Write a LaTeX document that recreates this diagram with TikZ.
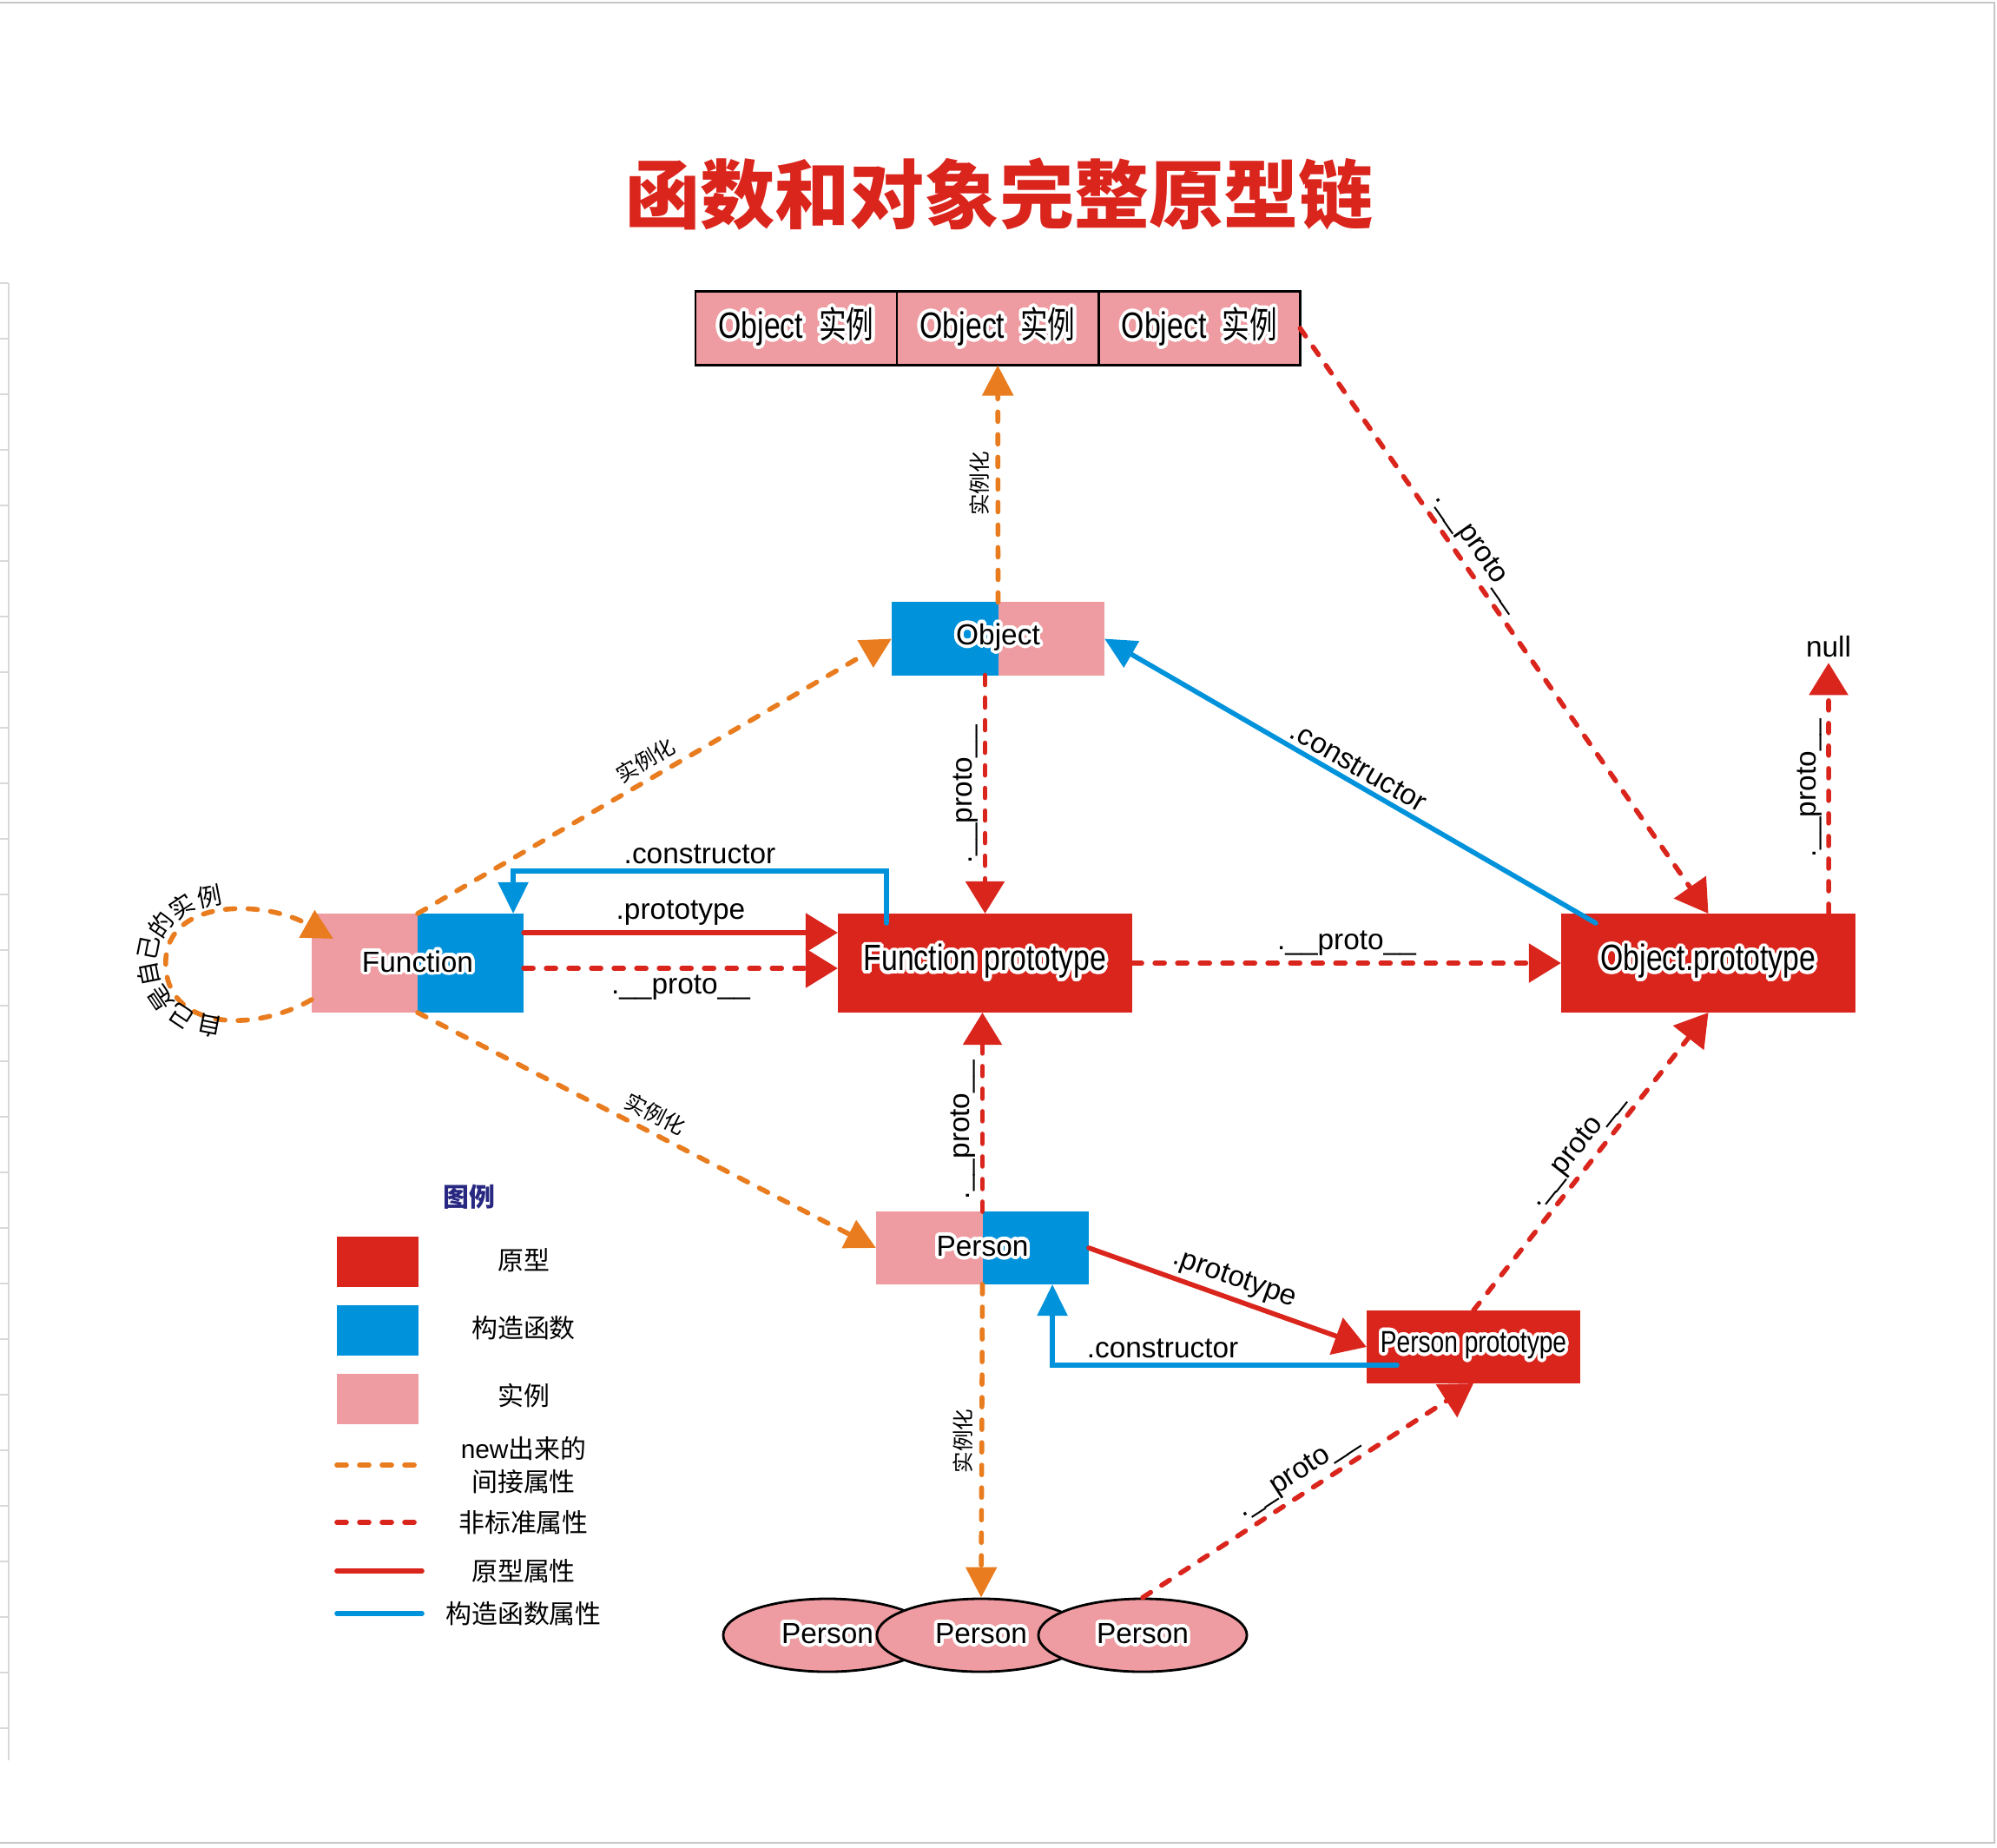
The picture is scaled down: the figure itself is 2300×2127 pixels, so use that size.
\documentclass[tikz,border=0pt]{standalone}
\usepackage{fontspec}
\setmainfont{Liberation Sans}
\newfontfamily\narrowfont{Liberation Sans}[FakeStretch=0.8]
\newfontfamily\cjk{Noto Sans CJK SC}
\newfontfamily\cjknarrow{Noto Sans CJK SC}[FakeStretch=0.75]
\usepackage{contour}
\contourlength{1.1pt}
\contournumber{24}
\usetikzlibrary{positioning,arrows.meta,shapes.geometric}

\definecolor{protored}{RGB}{218,37,29}
\definecolor{ctorblue}{RGB}{0,146,219}
\definecolor{instpink}{RGB}{238,156,161}
\definecolor{neworange}{RGB}{232,124,30}
\definecolor{legendnavy}{RGB}{40,40,130}

\newcommand{\halo}[1]{\contour{white}{#1}}
\newcommand{\protolbl}{.\_\_proto\_\_}

\begin{document}
\begin{tikzpicture}[x=0.01cm,y=-0.01cm,>={Triangle[length=3.7mm,width=4.4mm]},
  inst/.style={draw=black,line width=0.8pt,fill=instpink,minimum width=2.32cm,minimum height=0.85cm,inner sep=0pt,outer sep=0pt,font=\narrowfont\fontsize{12}{13}\selectfont},
  ctor/.style={minimum width=2.45cm,minimum height=0.84cm,inner sep=0pt,outer sep=0pt,font=\fontsize{9.5}{10}\selectfont},
  halves/.style 2 args={path picture={
    \fill[#1] (path picture bounding box.south west) rectangle (path picture bounding box.north);
    \fill[#2] (path picture bounding box.south) rectangle (path picture bounding box.north east);}},
  protobox/.style={fill=protored,minimum width=3.39cm,minimum height=1.14cm,inner sep=0pt,outer sep=0pt,font=\narrowfont\fontsize{12}{13}\selectfont},
  pers/.style={ellipse,draw=black,line width=0.8pt,fill=instpink,minimum width=2.4cm,minimum height=0.84cm,inner sep=0pt,font=\fontsize{9.5}{10}\selectfont},
  lbl/.style={text=black,font=\fontsize{9.5}{10}\selectfont,inner sep=1.5pt},
  cjklbl/.style={text=black,font=\cjk\fontsize{7}{8}\selectfont,inner sep=2pt},
  legtxt/.style={font=\cjk\fontsize{8.5}{11}\selectfont,align=center},
  legbox/.style={minimum width=0.94cm,minimum height=0.58cm,inner sep=0pt},
  newedge/.style={neworange,line width=1.6pt,line cap=round,dash pattern=on 1.1mm off 1.5mm,>={Triangle[length=3.5mm,width=3.5mm]}},
  nsedge/.style={protored,line width=1.6pt,line cap=round,dash pattern=on 1.1mm off 1.5mm},
  protoedge/.style={protored,line width=1.6pt,line cap=round},
  ctoredge/.style={ctorblue,line width=1.6pt,line cap=round,>={Triangle[length=3.6mm,width=3.4mm]}}]
\useasboundingbox (0,0) rectangle (2300,2127);
% page edges
\draw[gray!45,line width=0.6pt] (0,3) -- (2297,3) -- (2297,2122) -- (0,2122);
\draw[gray!30] (10,326) -- (10,2027);
\foreach \t in {326,390,...,2027} \draw[gray!30] (0,\t) -- (10,\t);

\node[font=\cjk\bfseries\fontsize{24.5}{28}\selectfont,text=protored] (title) at (1151,223) {函数和对象完整原型链};

% instances of Object
\node[inst] (inst1) at (917,378) {\halo{Object\hspace{0.18cm}{\cjknarrow 实例}}};
\node[inst,right=0pt of inst1] (inst2) {\halo{Object\hspace{0.18cm}{\cjknarrow 实例}}};
\node[inst,right=0pt of inst2] (inst3) {\halo{Object\hspace{0.18cm}{\cjknarrow 实例}}};

% constructors and prototypes
\node[ctor,halves={ctorblue}{instpink}] (obj) at (1149.5,735.5) {\halo{Object}};
\node[ctor,halves={instpink}{ctorblue},minimum width=2.44cm,minimum height=1.14cm] (fn) at (481,1109) {\halo{Function}};
\node[protobox] (fnproto) at (1134.5,1109) {\halo{Function prototype}};
\node[protobox] (objproto) at (1967.5,1109) {\halo{Object.prototype}};
\node[lbl] (null) at (2106,745) {null};
\node[ctor,halves={instpink}{ctorblue}] (person) at (1131.5,1437) {\halo{Person}};
\node[protobox,minimum width=2.46cm,minimum height=0.84cm,font=\narrowfont\fontsize{10}{11}\selectfont] (pproto) at (1697,1551) {\halo{Person prototype}};
\node[pers] (p1) at (953,1883) {\halo{Person}};
\node[pers] (p2) at (1130,1883) {\halo{Person}};
\node[pers] (p3) at (1316,1883) {\halo{Person}};

% new
\draw[newedge,->] (obj.north) -- (inst2.south) node[cjklbl,midway,rotate=90,above]{实例化};
\draw[newedge,->] (fn.north) -- (obj.west) node[cjklbl,midway,sloped,above]{实例化};
\draw[newedge,->] (fn.south) -- (person.west) node[cjklbl,midway,sloped,above]{实例化};
\draw[newedge,->] (person.south) -- (p2.north) node[cjklbl,midway,rotate=90,above]{实例化};
\draw[newedge,->] ([yshift=0.15cm]fn.south west) .. controls +(-70,40) and +(0,75) .. ([xshift=-1.68cm]fn.west)
  .. controls +(0,-75) and +(-80,-45) .. ([shift={(25,29)}]fn.north west);
\foreach \c [count=\i] in {自,己,是,自,己,的,实,例}{
  \pgfmathsetmacro\th{101+(\i-1)*158/7}
  \node[cjklbl,inner sep=0pt,font=\cjk\fontsize{8}{9}\selectfont,rotate={-\th-90}] (loop\i) at ({258+88*cos(\th)},{1107+76*sin(\th)}) {\c};
}

% __proto__
\draw[nsedge,->] (inst3.east) -- (objproto.north) node[lbl,pos=0.4,sloped,above]{\protolbl};
\draw[nsedge,->] (obj.south -| fnproto.north) -- (fnproto.north) node[lbl,midway,rotate=90,above]{\protolbl};
\draw[nsedge,->] ([yshift=-0.06cm]fn.east) -- ([yshift=-0.06cm]fnproto.west) node[lbl,midway,below]{\protolbl};
\draw[nsedge,->] (fnproto.east) -- (objproto.west) node[lbl,midway,above]{\protolbl};
\draw[nsedge,->] ([xshift=-0.31cm]objproto.north east) -- (null.south) node[lbl,midway,rotate=90,above]{\protolbl};
\draw[nsedge,->] (person.north) -- (person.north |- fnproto.south) node[lbl,pos=0.41,rotate=90,above]{\protolbl};
\draw[nsedge,->] (pproto.north) -- (objproto.south) node[lbl,midway,sloped,above]{\protolbl};
\draw[nsedge,->] (p3.north) -- (pproto.south) node[lbl,midway,sloped,above]{\protolbl};

% prototype
\draw[protoedge,->] ([yshift=0.35cm]fn.east) -- ([yshift=0.35cm]fnproto.west) node[lbl,midway,above]{.prototype};
\draw[protoedge,->] (person.east) -- (pproto.west) node[lbl,midway,sloped,above]{.prototype};

% constructor
\draw[ctoredge,->] ([shift={(56,11)}]fnproto.north west) -- ++(0,-60) -| node[lbl,pos=0.25,above]{.constructor} ([xshift=-0.12cm]fn.north east);
\draw[ctoredge,->] ([shift={(40,11)}]objproto.north west) -- (obj.east) node[lbl,midway,sloped,above]{.constructor};
\draw[ctoredge,->] ([shift={(35,21)}]pproto.west) -| node[lbl,pos=0.34,above]{.constructor} ([xshift=-0.42cm]person.south east);

% legend
\node[font=\cjk\bfseries\fontsize{8.5}{10}\selectfont,text=legendnavy] (legend) at (540,1378) {图例};
\node[legbox,fill=protored] (legproto) at (435,1453) {};
\node[legbox,fill=ctorblue] (legctor) at (435,1532) {};
\node[legbox,fill=instpink] (leginst) at (435,1611) {};
\node[legtxt] (legprototxt) at (603,1451) {原型};
\node[legtxt] (legctortxt) at (603,1529) {构造函数};
\node[legtxt] (leginsttxt) at (603,1607) {实例};
\node[legtxt] (legnewtxt) at (603,1687) {{\rmfamily new}出来的\\间接属性};
\node[legtxt] (legnstxt) at (603,1753) {非标准属性};
\node[legtxt] (legprotoedgetxt) at (603,1809) {原型属性};
\node[legtxt] (legctoredgetxt) at (603,1858) {构造函数属性};
\draw[newedge] (388,1687) -- (486,1687);
\draw[nsedge] (388,1753) -- (486,1753);
\draw[protoedge] (388,1809) -- (486,1809);
\draw[ctoredge] (388,1858) -- (486,1858);
\end{tikzpicture}
\end{document}
